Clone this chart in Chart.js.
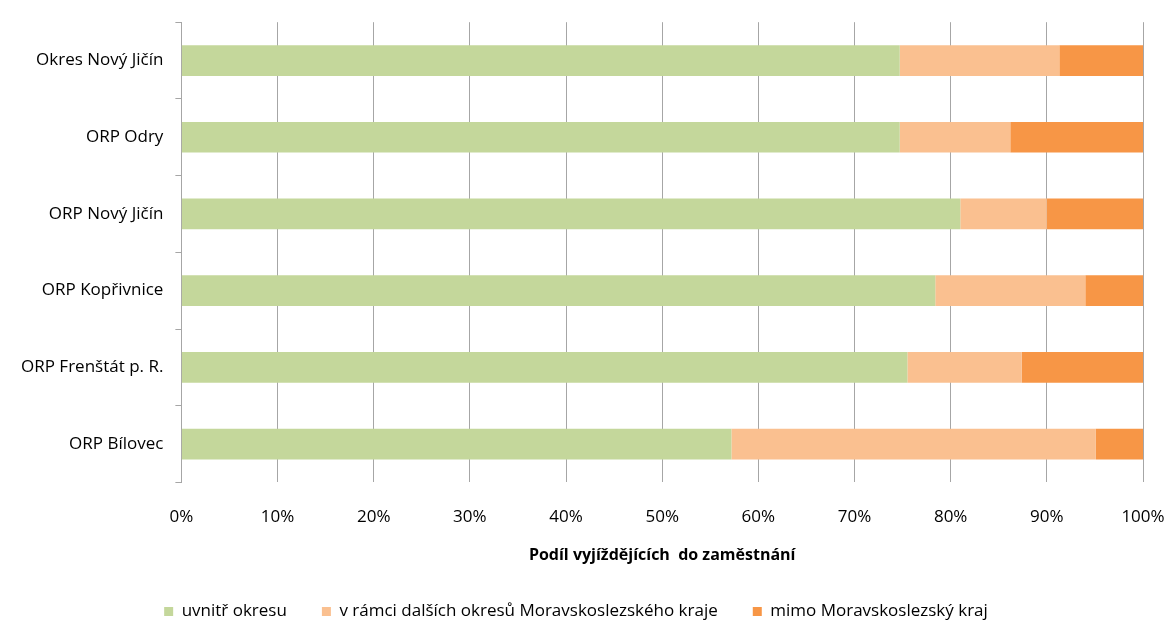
<!DOCTYPE html>
<html>
<head>
<meta charset="utf-8">
<script src="https://cdn.jsdelivr.net/npm/chart.js@4/dist/chart.umd.min.js"></script>
<style>
  html, body { margin: 0; padding: 0; background: #fff; }
  #wrap { width: 1170px; height: 623px; position: relative; }
</style>
</head>
<body>
<div id="wrap"><canvas id="chart"></canvas></div>
<script>
const categories = ['Okres Nový Jičín', 'ORP Odry', 'ORP Nový Jičín', 'ORP Kopřivnice', 'ORP Frenštát p. R.', 'ORP Bílovec'];
const uvnitrOkresu = [74.7, 74.7, 81.0, 78.4, 75.5, 57.2];
const dalsiOkresy = [16.6, 11.5, 9.0, 15.6, 11.9, 37.9];
const mimoKraj = [8.7, 13.8, 10.0, 6.0, 12.6, 4.9];
const seriesNames = ['uvnitř okresu', 'v rámci dalších okresů Moravskoslezského kraje', 'mimo Moravskoslezský kraj'];

const gridGray = '#a6a6a6';
const font = { family: 'Open Sans', size: 17 };

Chart.defaults.color = '#000';
Chart.defaults.font = font;

new Chart(document.getElementById('chart'), {
    type: 'bar',
    data: {
        labels: categories,
        datasets: [
            { label: seriesNames[0], data: uvnitrOkresu, backgroundColor: '#c4d79b' },
            { label: seriesNames[1], data: dalsiOkresy, backgroundColor: '#fac090' },
            { label: seriesNames[2], data: mimoKraj, backgroundColor: '#f79646' },
        ],
    },
    options: {
        indexAxis: 'y',
        responsive: true,
        maintainAspectRatio: false,
        animation: false,
        layout: { padding: { top: 0, right: 27, left: 9, bottom: 0 } },
        datasets: { bar: { barPercentage: 0.4, categoryPercentage: 1 } },
        plugins: {
            tooltip: { enabled: false },
            legend: {
                position: 'bottom',
                maxHeight: 55,
                labels: { boxWidth: 9, boxHeight: 9, padding: 35, font: font },
            },
        },
        scales: {
            x: {
                stacked: true,
                min: 0,
                max: 100,
                ticks: { stepSize: 10, callback: v => v + '%', padding: 0 },
                // invisible tick marks give the gap between plot and labels
                grid: { color: gridGray, drawTicks: true, tickLength: 25, tickColor: 'rgba(0,0,0,0)' },
                border: { display: false },
                title: {
                    display: true,
                    text: 'Podíl vyjíždějících  do zaměstnání',
                    font: { family: 'Open Sans', size: 16, weight: 'bold' },
                    padding: { top: 18, bottom: 3 },
                },
            },
            y: {
                stacked: true,
                ticks: { padding: 12 },
                grid: { offset: true, drawOnChartArea: false, color: gridGray, tickLength: 6 },
                border: { color: gridGray },
            },
        },
    },
});
</script>
</body>
</html>
